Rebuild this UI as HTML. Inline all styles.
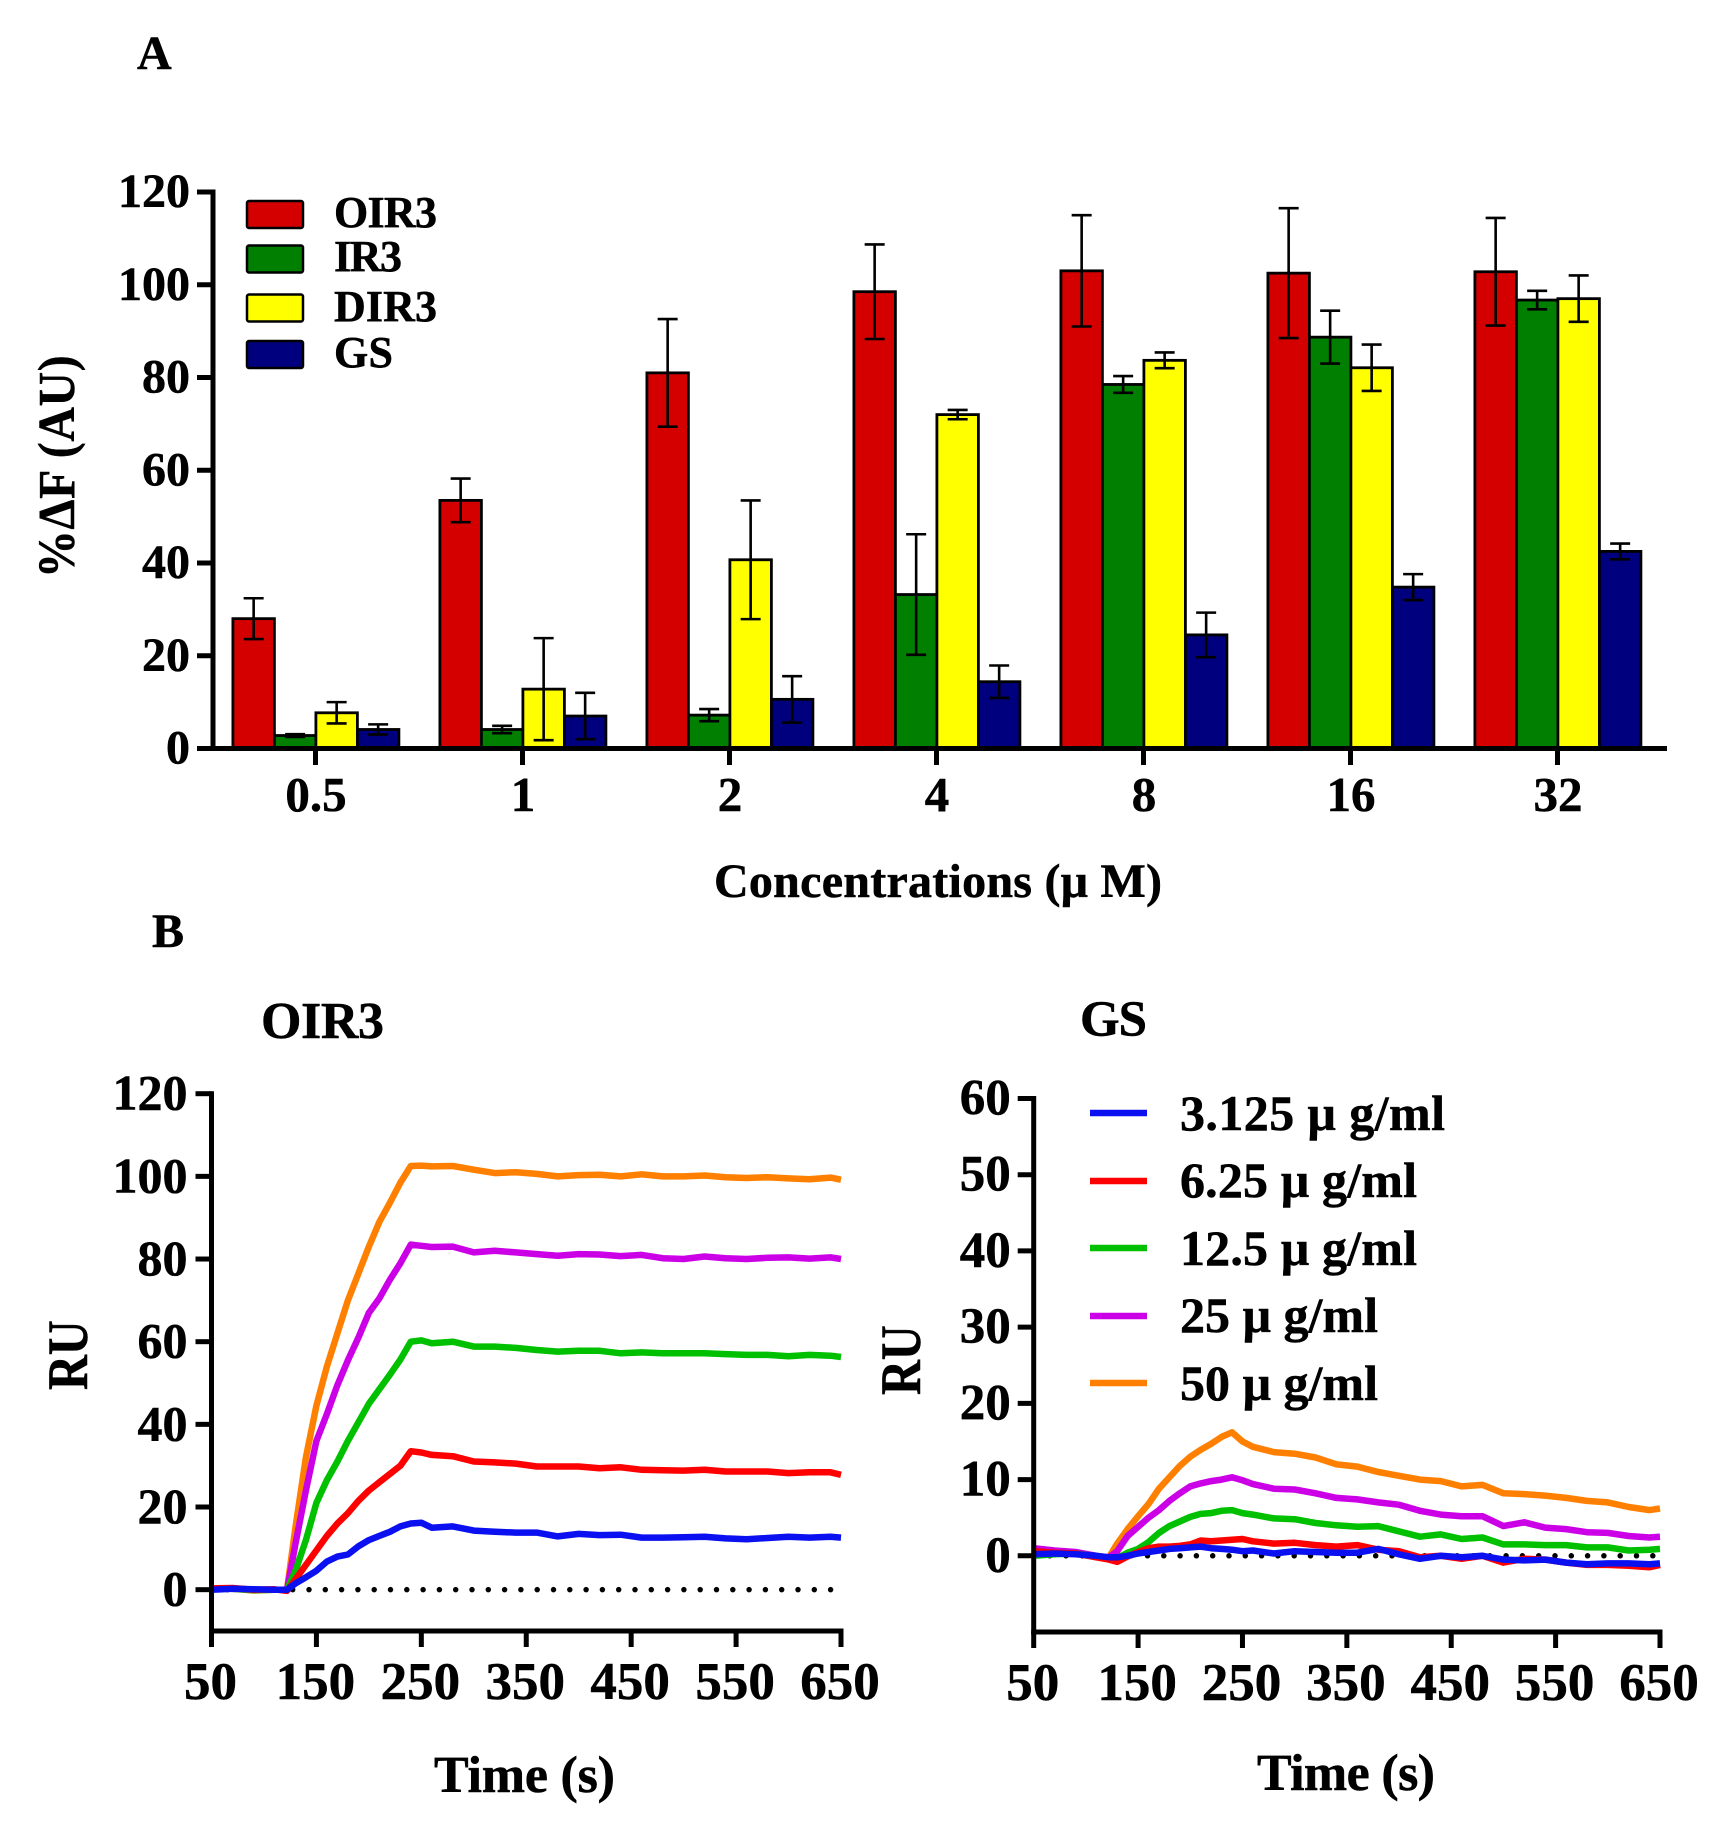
<!DOCTYPE html>
<html lang="en">
<head>
<meta charset="utf-8">
<title>OIR3 and GS binding charts</title>
<style>
html,body{margin:0;padding:0;background:#fff;}
svg{display:block;}
text{font-family:"Liberation Serif","DejaVu Serif",serif;font-weight:bold;fill:#000;stroke:#000;stroke-width:0.5px;}
</style>
</head>
<body>
<svg id="figure" xmlns="http://www.w3.org/2000/svg" width="1725" height="1843" viewBox="0 0 1725 1843">
  <rect x="0" y="0" width="1725" height="1843" fill="#fff"/>
  <g id="panelA"></g>
  <g id="panelB1"></g>
  <g id="panelB2"></g>

  <text x="137" y="69" font-size="48">A</text>
  <text x="152" y="947" font-size="48">B</text>
  <text transform="translate(74,578) rotate(-90) scale(0.92,1)" font-size="52" textLength="242" lengthAdjust="spacing">%ΔF (AU)</text>
  <text x="714" y="897" font-size="48" textLength="448" lengthAdjust="spacing">Concentrations (μ M)</text>
  <text x="261" y="1038" font-size="52" textLength="123" lengthAdjust="spacing">OIR3</text>
  <text x="1080" y="1036" font-size="51" textLength="67" lengthAdjust="spacing">GS</text>
  <text transform="translate(87,1390) rotate(-90) scale(0.85,1)" font-size="57" textLength="82" lengthAdjust="spacing">RU</text>
  <text transform="translate(920,1395) rotate(-90) scale(0.85,1)" font-size="57" textLength="82" lengthAdjust="spacing">RU</text>
  <text x="434" y="1792" font-size="52" textLength="181" lengthAdjust="spacing">Time (s)</text>
  <text x="1257" y="1790" font-size="52" textLength="178" lengthAdjust="spacing">Time (s)</text>
</svg>
<script>
// ---------- Panel A data ----------
var concentrations = ['0.5','1','2','4','8','16','32'];
var barSeriesNames = ['OIR3','IR3','DIR3','GS'];
var oir3Values  = [28,   53.5, 81,   98.5, 103,  102.5, 102.8];
var ir3Values   = [2.8,  4.1,  7.2,  33.2, 78.5, 88.7,  96.7];
var dir3Values  = [7.7,  12.8, 40.7, 72,   83.7, 82.1,  97];
var gsValues    = [4.1,  7,    10.6, 14.4, 24.5, 34.8,  42.5];
var oir3Errors  = [4.4,  4.7,  11.6, 10.2, 12,   14,    11.6];
var ir3Errors   = [0.3,  0.8,  1.3,  13,   1.8,  5.7,   2];
var dir3Errors  = [2.3,  11,   12.8, 1,    1.7,  5,     5];
var gsErrors    = [1.1,  5,    5,    3.5,  4.8,  2.8,   1.7];
var aYTicks = [0,20,40,60,80,100,120];

// ---------- Panel B data ----------
var timePoints = [50,70,90,110,122,130,140,150,160,170,180,190,200,210,220,230,240,250,260,280,300,320,340,360,380,400,420,440,460,480,500,520,540,560,580,600,620,640,650];
var doseNames = ['3.125 μ g/ml','6.25 μ g/ml','12.5 μ g/ml','25 μ g/ml','50 μ g/ml'];

var oir3Dose50 = [0.3,0.2,-0.2,0,0, 15,32,44.5,54,62,70,76.5,83,89,93.6,98.5,102.5,102.6,102.4, 102.5,101.6,100.8,101,100.6,100,100.3,100.4,100,100.5,100,100,100.2,99.8,99.6,99.8,99.5,99.3,99.7, 99.2];
var oir3Dose25 = [0.2,0.3,0,0,0, 11,24,36,42.5,49.5,55.5,61,67,70.5,75,79,83.5,83.2,82.9, 83,81.6,82,81.6,81.2,80.8,81.2,81.1,80.7,81,80.2,80,80.6,80.2,80,80.3,80.4,80.1,80.4, 80];
var oir3Dose12 = [0.2,0.2,-0.1,0,0, 4.5,12,21,26.5,31,36,40.5,45,48.5,52,55.7,60,60.3,59.6, 60,58.8,58.8,58.5,58,57.6,57.8,57.8,57.2,57.4,57.2,57.2,57.2,57,56.8,56.8,56.5,56.8,56.6, 56.3];
var oir3Dose6  = [0.3,0.4,0,0.1,-0.3, 2.5,6,9.5,13,16,18.5,21.5,24,26,28,30,33.5,33.2,32.6, 32.3,31,30.8,30.5,29.8,29.8,29.8,29.4,29.6,29,28.9,28.8,29,28.6,28.6,28.6,28.2,28.4,28.4, 27.8];
var oir3Dose3  = [0,0.2,0.1,0,0, 1.5,3,4.6,6.8,8,8.5,10.5,12,13,14,15.3,16,16.2,15, 15.3,14.3,14,13.8,13.8,12.9,13.5,13.2,13.3,12.6,12.6,12.7,12.8,12.4,12.2,12.5,12.8,12.6,12.8, 12.6];

var gsDose50 = [0.8,0.5,0.4,-0.2,-0.2, 1.6,3.5,5.2,6.8,8.8,10.3,11.8,13,13.9,14.7,15.6,16.2,15,14.3, 13.6,13.4,12.9,12,11.7,11,10.5,10,9.8,9.1,9.3,8.2,8.1,7.9,7.6,7.2,7,6.4,6, 6.2];
var gsDose25 = [1,0.7,0.5,0,-0.2, 0.6,2.6,3.8,5,6,7.2,8.2,9.1,9.5,9.8,10,10.3,9.9,9.4, 8.8,8.7,8.2,7.6,7.4,7,6.7,5.9,5.4,5.2,5.2,3.9,4.4,3.7,3.5,3.1,3,2.6,2.4, 2.5];
var gsDose12 = [0,0.2,0.3,-0.1,-0.3, -0.3,0.4,0.9,1.8,3,3.9,4.5,5.1,5.5,5.6,5.9,6,5.6,5.4, 4.9,4.8,4.3,4,3.8,3.9,3.2,2.5,2.8,2.2,2.4,1.5,1.5,1.4,1.4,1.1,1.1,0.7,0.8, 0.9];
var gsDose6  = [0.6,0.4,0.3,-0.2,-0.5, -0.8,-0.1,0.5,1,1.2,1.2,1.3,1.5,2,1.9,2,2.1,2.2,1.9, 1.6,1.7,1.4,1.2,1.4,0.8,0.6,-0.2,0,-0.4,0,-0.9,-0.4,-0.5,-0.9,-1.2,-1.2,-1.3,-1.5, -1.2];
var gsDose3  = [0.2,0.3,0.2,0,-0.2, -0.2,0,0.3,0.5,0.7,0.9,1,1.1,1.2,1,0.9,0.8,0.6,0.7, 0.3,0.6,0.5,0.4,0.4,0.9,0.2,-0.4,0,-0.2,0,-0.5,-0.6,-0.5,-0.9,-1.1,-1,-1,-1.1, -1];

var timeTicks = [50,150,250,350,450,550,650];
var oir3YTicks = [0,20,40,60,80,100,120];
var gsYTicks = [0,10,20,30,40,50,60];

// ---------- Helpers ----------
var NS = 'http://www.w3.org/2000/svg';
function svgEl(tag, parent, attrs) {
  var el = document.createElementNS(NS, tag);
  for (var k in attrs) { el.setAttribute(k, attrs[k]); }
  parent.appendChild(el);
  return el;
}
function slug(s) { return String(s).replace(/[^a-zA-Z0-9]+/g, '-').toLowerCase(); }

// ---------- Panel A ----------
(function () {
  var g = document.getElementById('panelA');
  var yScale = function (v) { return 748.5 - v * (748.5 - 192) / 120; };
  var xCat = function (i) { return 315.5 + i * 207; };
  var barW = 41.5;
  var colors = ['#d40000', '#007f00', '#ffff00', '#00007f'];
  var values = [oir3Values, ir3Values, dir3Values, gsValues];
  var errors = [oir3Errors, ir3Errors, dir3Errors, gsErrors];

  values.forEach(function (series, s) {
    series.forEach(function (v, i) {
      var x0 = xCat(i) - 2 * barW + s * barW + 0.4;
      var bar = svgEl('rect', g, { x: x0, y: yScale(v), width: barW, height: yScale(0) - yScale(v), fill: colors[s], stroke: '#000', 'stroke-width': 2.8 });
      
      
    });
  });
  values.forEach(function (series, s) {
    series.forEach(function (v, i) {
      var cx = xCat(i) - 2 * barW + s * barW + 0.4 + barW / 2;
      var e = errors[s][i];
      var err = svgEl('path', g, {
        d: 'M' + (cx - 10) + ' ' + yScale(v + e) + 'H' + (cx + 10) + 'M' + cx + ' ' + yScale(v + e) + 'V' + yScale(v - e) + 'M' + (cx - 10) + ' ' + yScale(v - e) + 'H' + (cx + 10),
        fill: 'none', stroke: '#000', 'stroke-width': 2.6
      });
      
      
    });
  });

  var yAxis = svgEl('line', g, { x1: 213, x2: 213, y1: yScale(120) - 2.5, y2: yScale(0) + 2.5, stroke: '#000', 'stroke-width': 5 });
  
  
  var xAxis = svgEl('line', g, { x1: 197, x2: 1667, y1: yScale(0), y2: yScale(0), stroke: '#000', 'stroke-width': 5 });
  
  

  aYTicks.forEach(function (t) {
    var tick = svgEl('line', g, { x1: 197, x2: 213, y1: yScale(t), y2: yScale(t), stroke: '#000', 'stroke-width': 5 });
    
    
    var lab = svgEl('text', g, { x: 190, y: yScale(t) + 15, 'font-size': 48, 'text-anchor': 'end' });
    
    
    lab.textContent = t;
  });
  concentrations.forEach(function (c, i) {
    var tick = svgEl('line', g, { x1: xCat(i), x2: xCat(i), y1: yScale(0), y2: 765, stroke: '#000', 'stroke-width': 5 });
    
    
    var lab = svgEl('text', g, { x: xCat(i) + 0.5, y: 811, 'font-size': 49, 'text-anchor': 'middle' });
    
    
    lab.textContent = c;
  });

  var swatchY = [201, 245.5, 294.5, 341];
  var legendBase = [227, 271, 321, 367];
  var legendW = [103, 68, 103, 59];
  barSeriesNames.forEach(function (n, s) {
    var sw = svgEl('rect', g, { x: 247, y: swatchY[s], width: 56, height: 27, rx: 2, fill: colors[s], stroke: '#000', 'stroke-width': 2.5 });
    
    
    var t = svgEl('text', g, { x: 334, y: legendBase[s], 'font-size': 44, textLength: legendW[s], lengthAdjust: 'spacing' });
    
    
    t.textContent = n;
  });
})();

// ---------- Panels B ----------
var lineColors = ['#0a10f0', '#ff0000', '#00c000', '#cc00e6', '#ff8000'];

function drawSensorgram(g, prefix, box, yTicks, yMin, yMax, seriesList) {
  var x = function (t) { return box.x0 + (t - 50) * (box.x1 - box.x0) / 600; };
  var y = function (v) { return box.y0 + (v - yMin) * (box.yTop - box.y0) / (yMax - yMin); };

  var dots = svgEl('line', g, { x1: x(50) + 16, x2: x(650), y1: y(0), y2: y(0), stroke: '#000', 'stroke-width': 5.5, 'stroke-linecap': 'round', 'stroke-dasharray': '0 16.3' });
  
  

  // orange first, blue on top
  for (var s = seriesList.length - 1; s >= 0; s--) {
    var d = '';
    seriesList[s].forEach(function (v, i) {
      d += (i ? 'L' : 'M') + x(timePoints[i]).toFixed(1) + ' ' + y(v).toFixed(1);
    });
    var path = svgEl('path', g, { d: d, fill: 'none', stroke: lineColors[s], 'stroke-width': 6.5, 'stroke-linejoin': 'round' });
    
    
  }

  var yAxis = svgEl('line', g, { x1: x(50), x2: x(50), y1: y(yMax) - 2.5, y2: y(yMin) + 2.5, stroke: '#000', 'stroke-width': 5 });
  
  
  var xAxis = svgEl('line', g, { x1: x(50) - 2.5, x2: x(650) + 2.5, y1: y(yMin), y2: y(yMin), stroke: '#000', 'stroke-width': 5 });
  
  

  yTicks.forEach(function (t) {
    var tick = svgEl('line', g, { x1: x(50) - 16, x2: x(50), y1: y(t), y2: y(t), stroke: '#000', 'stroke-width': 5 });
    
    
    var lab = svgEl('text', g, { x: x(50) + box.labelDx, y: y(t) + 16, 'font-size': box.yFont, 'text-anchor': 'end' });
    
    
    lab.textContent = t;
  });
  timeTicks.forEach(function (t) {
    var tick = svgEl('line', g, { x1: x(t), x2: x(t), y1: y(yMin), y2: y(yMin) + 16, stroke: '#000', 'stroke-width': 5 });
    
    
    var lab = svgEl('text', g, { x: x(t) - 1, y: box.labelY, 'font-size': 53, 'text-anchor': 'middle' });
    
    
    lab.textContent = t;
  });
}

drawSensorgram(document.getElementById('panelB1'), 'oir3',
  { x0: 211.5, x1: 841, y0: 1631, yTop: 1093.7, labelY: 1699, labelDx: -24, yFont: 50 },
  oir3YTicks, -10, 120, [oir3Dose3, oir3Dose6, oir3Dose12, oir3Dose25, oir3Dose50]);

drawSensorgram(document.getElementById('panelB2'), 'gs',
  { x0: 1033.7, x1: 1660, y0: 1632, yTop: 1098.5, labelY: 1700, labelDx: -23, yFont: 51 },
  gsYTicks, -10, 60, [gsDose3, gsDose6, gsDose12, gsDose25, gsDose50]);

(function () {
  var g = document.getElementById('panelB2');
  var lineY = [1113, 1181, 1248, 1316, 1383];
  var textY = [1130, 1197, 1265, 1332, 1400];
  var textW = [265, 237, 237, 198, 198];
  doseNames.forEach(function (n, s) {
    var ln = svgEl('line', g, { x1: 1090, x2: 1147, y1: lineY[s], y2: lineY[s], stroke: lineColors[s], 'stroke-width': 6.5 });
    
    
    var t = svgEl('text', g, { x: 1180, y: textY[s], 'font-size': 50, textLength: textW[s], lengthAdjust: 'spacing' });
    
    
    t.textContent = n;
  });
})();
</script>
</body>
</html>
